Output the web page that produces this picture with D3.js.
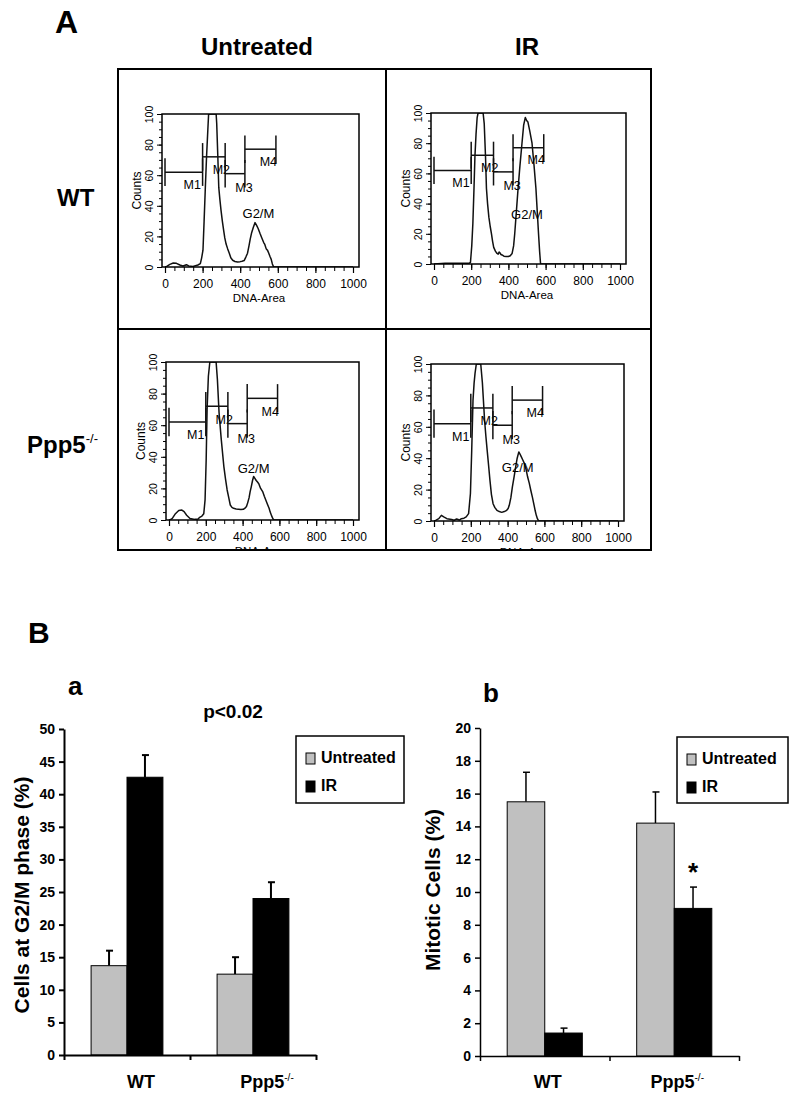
<!DOCTYPE html>
<html>
<head>
<meta charset="utf-8">
<script src="https://cdn.jsdelivr.net/npm/d3@7"></script>
<style>
  body { margin: 0; background: #fff; }
  svg { display: block; }
  text { font-family: Arial, "Liberation Sans", sans-serif; fill: #000; }
</style>
</head>
<body>
<svg id="fig" width="800" height="1101"></svg>
<script>
// ---- Panel A: DNA content histograms, [DNA-Area, Counts]
const wtUntreated = [[0,0],[9,0.4],[26,1.7],[44,2.6],[61,2.4],[79,1.3],[96,0.7],[114,1.5],[126,0.7],[149,0.4],[175,1.3],[188,2.2],
  [195,6],[202,11],[208,30],[214,50],[221,72],[228,90],[232,100],[272,100],[275,94],[281,72],[286,52],[292,44],[298,37],
  [305,30],[312,24],[318,19],[325,15],[333,12],[342,9],[350,6],[360,4.4],[372,3.6],[386,3.3],[400,3.5],[410,3.8],[421,4.2],
  [430,6.5],[439,9],[447,14],[453,18],[460,22],[470,26],[479,29],[488,27],[496,25],[505,22],[515,19],[525,16],[530,15],
  [538,12],[545,11],[552,9],[558,7],[565,5],[571,2],[578,0],[1000,0]];
const wtIR = [[0,0],[60,0.5],[120,0.5],[190,0.5],[196,1],[203,12],[209,27],[215,50],[220,71],[226,86],[232,97],[237,100],
  [264,100],[270,93],[277,71],[282,50],[288,40],[295,31],[302,25],[309,20],[315,15],[321,11],[330,8.5],[339,7],[345,6.5],
  [350,8],[354,7.5],[360,6.3],[366,6],[376,5.2],[388,4.9],[400,5],[410,5.5],[420,7],[428,12],[434,20],[443,35],[452,50],
  [462,65],[473,80],[482,92],[491,97],[498,95],[505,94],[515,88],[527,80],[538,65],[548,50],[555,35],[562,20],[568,8],
  [573,0],[1000,0]];
const koUntreated = [[0,0],[9,0.3],[18,1],[35,4],[53,6],[70,6.3],[82,5.3],[96,3],[114,1],[140,0.4],[158,0.6],[167,1.7],
  [179,2.5],[189,4],[196,12.7],[202,38],[207,70],[214,91],[222,100],[256,100],[263,89],[272,68],[284,51],[298,34],
  [307,26],[316,19],[325,14],[333,9.5],[342,8],[351,7.4],[365,7],[377,6.8],[391,6.6],[404,6.8],[413,7.5],[421,8.5],
  [428,11],[435,14],[441,18],[447,21],[454,25],[460,27.5],[466,26.5],[474,25],[481,24],[488,23],[498,20],[509,18],
  [518,15],[526,12.7],[535,10],[544,7.4],[550,5],[556,3.2],[562,1.5],[567,0.4],[572,0],[1000,0]];
const koIR = [[0,0],[9,0.4],[26,1.5],[40,3.6],[53,2.6],[70,1.5],[96,1],[110,0.5],[123,1.3],[138,0.6],[149,1.5],[163,1.8],
  [175,2.6],[188,4.7],[198,17.5],[205,45],[212,77],[218,88],[223,94],[230,100],[254,100],[263,88],[275,64],[282,54],
  [289,45],[297,35],[304,26],[312,17],[321,11],[331,8.5],[342,6.8],[355,6],[368,5.5],[382,6],[395,6.8],[403,8],[409,10],
  [418,15],[426,21.7],[435,28],[444,34.5],[452,40],[461,44],[468,42.5],[474,41],[482,39],[491,36.7],[500,33],[509,28],
  [518,24],[526,19.6],[535,15],[544,10],[550,6.5],[556,3.6],[562,1.5],[567,0.4],[570,0],[1000,0]];

// analysis gates drawn on every histogram
const gateNames = ['M1', 'M2', 'M3', 'M4'];
const gateFrom  = [0, 200, 320, 425];
const gateTo    = [200, 320, 425, 590];
const gateLevel = [62, 72, 61, 77];

const columnTitles = ['Untreated', 'IR'];
const rowTitles = ['WT', 'Ppp5'];

// ---- Panel B: bar charts
const genotypes = ['WT', 'Ppp5'];
const treatments = ['Untreated', 'IR'];
const g2mUntreated = [13.7, 12.4];
const g2mIR = [42.6, 24.0];
const g2mErrUntreated = [2.3, 2.6];
const g2mErrIR = [3.4, 2.5];
const mitoticUntreated = [15.5, 14.2];
const mitoticIR = [1.4, 9.0];
const mitoticErrUntreated = [1.8, 1.9];
const mitoticErrIR = [0.3, 1.3];

const svg = d3.select('#fig');
const barColor = {Untreated: '#c0c0c0', IR: '#000'};

// ================= Panel A =================
svg.append('text').attr('x', 55).attr('y', 33).attr('font-size', 32).attr('font-weight', 'bold').text('A');

const boxA = {x0: 118, x1: 651, y0: 69, y1: 550, midX: 386, midY: 329};
svg.append('rect').attr('x', boxA.x0).attr('y', boxA.y0)
  .attr('width', boxA.x1 - boxA.x0).attr('height', boxA.y1 - boxA.y0)
  .attr('fill', 'none').attr('stroke', '#000').attr('stroke-width', 2);
svg.append('line').attr('x1', boxA.midX).attr('x2', boxA.midX).attr('y1', boxA.y0).attr('y2', boxA.y1)
  .attr('stroke', '#000').attr('stroke-width', 2);
svg.append('line').attr('x1', boxA.x0).attr('x2', boxA.x1).attr('y1', boxA.midY).attr('y2', boxA.midY)
  .attr('stroke', '#000').attr('stroke-width', 2);

[257, 527].forEach((cx, i) => {
  svg.append('text').attr('x', cx).attr('y', 55).attr('text-anchor', 'middle')
    .attr('font-size', 24).attr('font-weight', 'bold').text(columnTitles[i]);
});
svg.append('text').attr('x', 57).attr('y', 206).attr('font-size', 24).attr('font-weight', 'bold').text(rowTitles[0]);
const rowKo = svg.append('text').attr('x', 27).attr('y', 453).attr('font-size', 24).attr('font-weight', 'bold');
rowKo.append('tspan').text(rowTitles[1]);
rowKo.append('tspan').attr('font-size', 13).attr('font-weight', 'normal').attr('dy', -10).text('-/-');

const cells = [
  {cx0: boxA.x0, cx1: boxA.midX, cy0: boxA.y0, cy1: boxA.midY, x0: 162, x1: 359, y0: 114, y1: 267, data: wtUntreated, g2m: [497, 32]},
  {cx0: boxA.midX, cx1: boxA.x1, cy0: boxA.y0, cy1: boxA.midY, x0: 431, x1: 626, y0: 113, y1: 264, data: wtIR, g2m: [500, 30]},
  {cx0: boxA.x0, cx1: boxA.midX, cy0: boxA.midY, cy1: boxA.y1, x0: 166, x1: 359, y0: 362, y1: 520, data: koUntreated, g2m: [460, 30]},
  {cx0: boxA.midX, cx1: boxA.x1, cy0: boxA.midY, cy1: boxA.y1, x0: 431, x1: 624, y0: 364, y1: 521, data: koIR, g2m: [455, 31]}
];
// where the gate names sit, in data units
const gateLabelAt = [[145, 51], [300, 61], [420, 49], [550, 66]];

function histogram(p, i) {
  svg.append('clipPath').attr('id', 'cell' + i).append('rect')
    .attr('x', p.cx0 + 1).attr('y', p.cy0 + 1).attr('width', p.cx1 - p.cx0 - 2).attr('height', p.cy1 - p.cy0 - 2);
  svg.append('clipPath').attr('id', 'plot' + i).append('rect')
    .attr('x', p.x0).attr('y', p.y0).attr('width', p.x1 - p.x0).attr('height', p.y1 - p.y0);

  const g = svg.append('g').attr('clip-path', `url(#cell${i})`);
  const x = d3.scaleLinear().domain([0, 1000]).range([p.x0 + 3, p.x1 - 6]);
  const y = d3.scaleLinear().domain([0, 100]).range([p.y1, p.y0]);

  g.append('path').datum(p.data)
    .attr('clip-path', `url(#plot${i})`)
    .attr('fill', 'none').attr('stroke', '#111').attr('stroke-width', 1.5)
    .attr('stroke-linejoin', 'round')
    .attr('d', d3.line().x(d => x(d[0])).y(d => y(d[1])));

  g.append('rect').attr('x', p.x0).attr('y', p.y0)
    .attr('width', p.x1 - p.x0).attr('height', p.y1 - p.y0)
    .attr('fill', 'none').attr('stroke', '#000').attr('stroke-width', 1.5);

  // x axis, minor + major
  g.append('g').attr('transform', `translate(0,${p.y1})`)
    .call(d3.axisBottom(x).tickValues(d3.range(0, 1001, 50)).tickSize(4).tickFormat(''))
    .call(s => s.select('.domain').remove());
  const xa = g.append('g').attr('transform', `translate(0,${p.y1})`)
    .call(d3.axisBottom(x).tickValues(d3.range(0, 1001, 200)).tickSize(6).tickPadding(6).tickFormat(d3.format('d')))
    .call(s => s.select('.domain').remove());
  xa.attr('font-family', null).attr('font-size', 12).selectAll('text').attr('fill', '#222');
  xa.selectAll('line').attr('stroke-width', 1.2);

  // y axis, rotated labels
  g.append('g').attr('transform', `translate(${p.x0},0)`)
    .call(d3.axisLeft(y).tickValues(d3.range(0, 101, 5)).tickSize(3).tickFormat(''))
    .call(s => s.select('.domain').remove());
  const ya = g.append('g').attr('transform', `translate(${p.x0},0)`)
    .call(d3.axisLeft(y).tickValues(d3.range(0, 101, 20)).tickSize(5))
    .call(s => s.select('.domain').remove());
  ya.attr('font-family', null).attr('font-size', 10.5);
  ya.selectAll('text').attr('transform', 'rotate(-90)').attr('x', 0).attr('y', -9)
    .attr('dy', 0).attr('text-anchor', 'middle').attr('fill', '#222');

  g.append('text').attr('transform', `translate(${p.x0 - 21},${(p.y0 + p.y1) / 2}) rotate(-90)`)
    .attr('text-anchor', 'middle').attr('font-size', 12).attr('fill', '#222').text('Counts');
  g.append('text').attr('x', (x(0) + x(1000)) / 2).attr('y', p.y1 + 35)
    .attr('text-anchor', 'middle').attr('font-size', 11.5).attr('fill', '#222').text('DNA-Area');

  // gates
  gateNames.forEach((name, k) => {
    const yy = y(gateLevel[k]);
    g.append('line').attr('x1', x(gateFrom[k])).attr('x2', x(gateTo[k])).attr('y1', yy).attr('y2', yy)
      .attr('stroke', '#111').attr('stroke-width', 1.5);
    [gateFrom[k], gateTo[k]].forEach(v => {
      g.append('line').attr('x1', x(v)).attr('x2', x(v))
        .attr('y1', y(gateLevel[k] - 9)).attr('y2', y(gateLevel[k] + 9))
        .attr('stroke', '#111').attr('stroke-width', 1.5);
    });
    g.append('text').attr('x', x(gateLabelAt[k][0])).attr('y', y(gateLabelAt[k][1]))
      .attr('text-anchor', 'middle').attr('font-size', 12.5).attr('fill', '#111').text(name);
  });

  g.append('text').attr('x', x(p.g2m[0])).attr('y', y(p.g2m[1]))
    .attr('text-anchor', 'middle').attr('font-size', 13).attr('fill', '#111').text('G2/M');
}
cells.forEach(histogram);

// ================= Panel B =================
svg.append('text').attr('x', 28).attr('y', 643).attr('font-size', 30).attr('font-weight', 'bold').text('B');

function barChart(o) {
  const g = svg.append('g');
  const y = d3.scaleLinear().domain([0, o.max]).range([o.bottom, o.top]);
  const x0 = d3.scaleBand().domain(genotypes).range([o.left, o.right])
    .paddingInner(o.pad).paddingOuter(o.pad / 2);
  const x1 = d3.scaleBand().domain(treatments).range([0, x0.bandwidth()]);

  const rows = [];
  genotypes.forEach((gt, i) => {
    rows.push({gt, tr: 'Untreated', v: o.untreated[i], e: o.errUntreated[i]});
    rows.push({gt, tr: 'IR', v: o.ir[i], e: o.errIR[i]});
  });

  // error bars (upper whisker only)
  rows.forEach(d => {
    const cx = x0(d.gt) + x1(d.tr) + x1.bandwidth() / 2;
    g.append('line').attr('x1', cx).attr('x2', cx).attr('y1', y(d.v)).attr('y2', y(d.v + d.e))
      .attr('stroke', '#000').attr('stroke-width', o.errWidth);
    g.append('line').attr('x1', cx - 3).attr('x2', cx + 4).attr('y1', y(d.v + d.e)).attr('y2', y(d.v + d.e))
      .attr('stroke', '#000').attr('stroke-width', o.errWidth);
  });

  g.selectAll('rect.bar').data(rows).join('rect').attr('class', 'bar')
    .attr('x', d => x0(d.gt) + x1(d.tr))
    .attr('y', d => y(d.v))
    .attr('width', x1.bandwidth())
    .attr('height', d => y(0) - y(d.v))
    .attr('fill', d => barColor[d.tr])
    .attr('stroke', '#000').attr('stroke-width', 1);

  // y axis
  const ya = g.append('g').attr('transform', `translate(${o.left},0)`)
    .call(d3.axisLeft(y).tickValues(d3.range(0, o.max + 0.001, o.step)).tickSize(5).tickSizeOuter(0).tickPadding(4));
  ya.attr('font-family', null).attr('font-size', 14).attr('font-weight', 'bold');
  ya.selectAll('line, path').attr('stroke-width', o.axisWidth);

  // x axis: ticks at the category boundaries
  const xb = d3.scaleLinear().domain([0, genotypes.length]).range([o.left, o.right]);
  const xa = g.append('g').attr('transform', `translate(0,${o.bottom})`)
    .call(d3.axisBottom(xb).tickValues(d3.range(0, genotypes.length + 1)).tickSize(5).tickSizeOuter(0).tickFormat(''));
  xa.selectAll('line, path').attr('stroke-width', o.axisWidth);

  genotypes.forEach((gt, i) => {
    const t = g.append('text').attr('x', x0(gt) + x0.bandwidth() / 2 + o.labelDx).attr('y', 1088)
      .attr('text-anchor', 'middle').attr('font-size', 18).attr('font-weight', 'bold');
    t.append('tspan').text(gt);
    if (i === 1) t.append('tspan').attr('font-size', 10).attr('font-weight', 'normal').attr('dy', -7).text('-/-');
  });

  g.append('text').attr('transform', `translate(${o.titleX},${o.titleY}) rotate(-90)`)
    .attr('text-anchor', 'middle').attr('font-size', 21).attr('font-weight', 'bold').text(o.title);

  g.append('text').attr('x', o.letterX).attr('y', o.letterY)
    .attr('font-size', 26).attr('font-weight', 'bold').text(o.letter);

  // legend
  const L = o.legend;
  g.append('rect').attr('x', L.x0).attr('y', L.y0).attr('width', L.x1 - L.x0).attr('height', L.y1 - L.y0)
    .attr('fill', '#fff').attr('stroke', '#000').attr('stroke-width', 1.5);
  treatments.forEach((tr, k) => {
    const base = L.y0 + 27 + k * 28;
    g.append('rect').attr('x', L.x0 + 10).attr('y', base - 10).attr('width', 9).attr('height', 11)
      .attr('fill', barColor[tr]).attr('stroke', '#000').attr('stroke-width', 1);
    g.append('text').attr('x', L.x0 + 25).attr('y', base)
      .attr('font-size', 16).attr('font-weight', 'bold').text(tr);
  });

  return {x0, x1, y};
}

const chartA = barChart({
  left: 64, right: 316, bottom: 1055, top: 729, max: 50, step: 5, pad: 0.43,
  untreated: g2mUntreated, ir: g2mIR, errUntreated: g2mErrUntreated, errIR: g2mErrIR,
  errWidth: 2, axisWidth: 2, labelDx: 14,
  title: 'Cells at G2/M phase (%)', titleX: 29, titleY: 895,
  letter: 'a', letterX: 68, letterY: 695,
  legend: {x0: 296, x1: 404, y0: 736, y1: 803}
});
svg.append('text').attr('x', 233).attr('y', 718).attr('text-anchor', 'middle')
  .attr('font-size', 19).attr('font-weight', 'bold').text('p<0.02');

const chartB = barChart({
  left: 480, right: 739, bottom: 1056, top: 728, max: 20, step: 2, pad: 0.42,
  untreated: mitoticUntreated, ir: mitoticIR, errUntreated: mitoticErrUntreated, errIR: mitoticErrIR,
  errWidth: 1.5, axisWidth: 1.5, labelDx: 3,
  title: 'Mitotic Cells (%)', titleX: 440, titleY: 890,
  letter: 'b', letterX: 483, letterY: 702,
  legend: {x0: 677, x1: 788, y0: 737, y1: 803}
});
// significance mark over Ppp5-/- IR
const starX = chartB.x0('Ppp5') + chartB.x1('IR') + chartB.x1.bandwidth() / 2;
svg.append('text').attr('x', starX).attr('y', chartB.y(mitoticIR[1] + mitoticErrIR[1]) - 6)
  .attr('text-anchor', 'middle').attr('font-size', 26).attr('font-weight', 'bold').text('*');
</script>
</body>
</html>
